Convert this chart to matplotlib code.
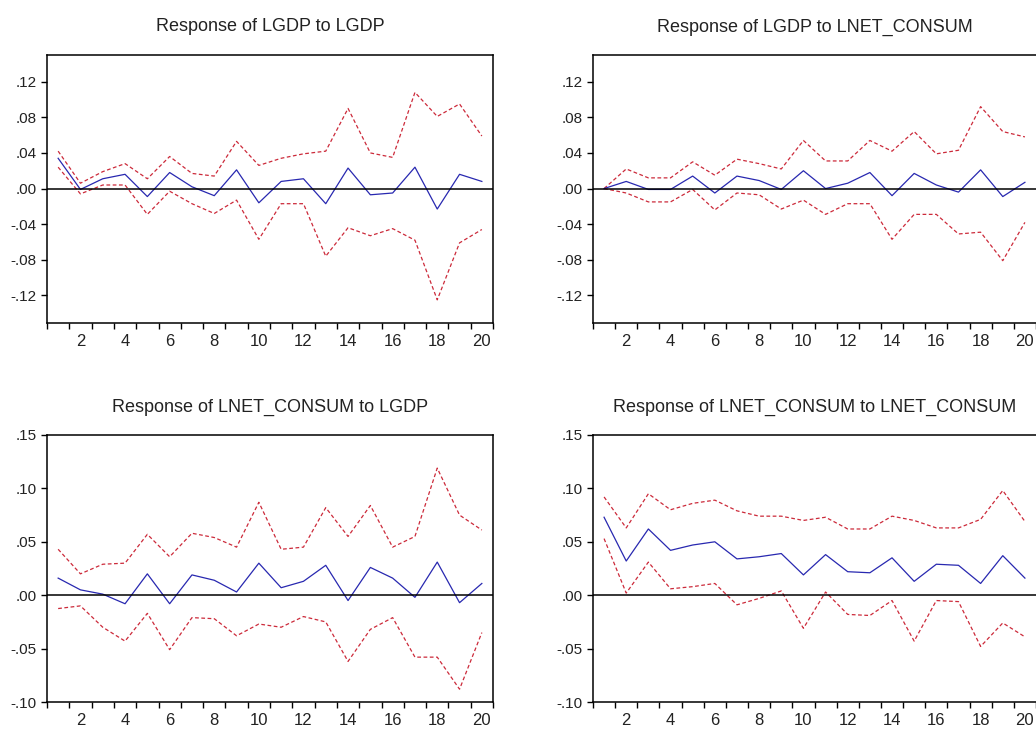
import numpy as np
import matplotlib
matplotlib.use("Agg")
import matplotlib.pyplot as plt
from matplotlib.ticker import FuncFormatter

periods = list(range(1, 21))

# Response of LGDP to LGDP
gdp_gdp = [0.034, -0.001, 0.011, 0.016, -0.009, 0.018, 0.002, -0.008, 0.021, -0.016,
           0.008, 0.011, -0.017, 0.023, -0.007, -0.005, 0.024, -0.023, 0.016, 0.008]
gdp_gdp_hi = [0.042, 0.006, 0.019, 0.028, 0.011, 0.036, 0.017, 0.014, 0.053, 0.026,
              0.034, 0.039, 0.042, 0.090, 0.040, 0.035, 0.108, 0.081, 0.095, 0.059]
gdp_gdp_lo = [0.024, -0.006, 0.004, 0.004, -0.029, -0.003, -0.017, -0.028, -0.013, -0.057,
              -0.017, -0.017, -0.076, -0.044, -0.053, -0.045, -0.058, -0.125, -0.061, -0.046]

# Response of LGDP to LNET_CONSUM
gdp_con = [0.000, 0.008, -0.001, -0.001, 0.014, -0.005, 0.014, 0.009, -0.001, 0.020,
           0.000, 0.006, 0.018, -0.008, 0.017, 0.004, -0.004, 0.021, -0.009, 0.007]
gdp_con_hi = [0.000, 0.022, 0.012, 0.012, 0.030, 0.015, 0.033, 0.028, 0.022, 0.054,
              0.031, 0.031, 0.054, 0.042, 0.064, 0.039, 0.043, 0.092, 0.064, 0.058]
gdp_con_lo = [0.000, -0.005, -0.015, -0.015, -0.001, -0.024, -0.005, -0.007, -0.023, -0.013,
              -0.029, -0.017, -0.017, -0.057, -0.029, -0.029, -0.051, -0.049, -0.081, -0.038]

# Response of LNET_CONSUM to LGDP
con_gdp = [0.016, 0.005, 0.001, -0.008, 0.020, -0.008, 0.019, 0.014, 0.003, 0.030,
           0.007, 0.013, 0.028, -0.005, 0.026, 0.016, -0.002, 0.031, -0.007, 0.011]
con_gdp_hi = [0.043, 0.020, 0.029, 0.030, 0.057, 0.036, 0.058, 0.054, 0.045, 0.087,
              0.043, 0.045, 0.082, 0.055, 0.084, 0.045, 0.055, 0.119, 0.075, 0.061]
con_gdp_lo = [-0.0125, -0.010, -0.030, -0.043, -0.017, -0.051, -0.021, -0.022, -0.038, -0.027,
              -0.030, -0.020, -0.025, -0.062, -0.032, -0.021, -0.058, -0.058, -0.088, -0.035]

# Response of LNET_CONSUM to LNET_CONSUM
con_con = [0.073, 0.032, 0.062, 0.042, 0.047, 0.050, 0.034, 0.036, 0.039, 0.019,
           0.038, 0.022, 0.021, 0.035, 0.013, 0.029, 0.028, 0.011, 0.037, 0.016]
con_con_hi = [0.092, 0.063, 0.095, 0.080, 0.086, 0.089, 0.079, 0.074, 0.074, 0.070,
              0.073, 0.062, 0.062, 0.074, 0.070, 0.063, 0.063, 0.071, 0.098, 0.069]
con_con_lo = [0.053, 0.002, 0.031, 0.006, 0.008, 0.011, -0.009, -0.003, 0.004, -0.031,
              0.003, -0.018, -0.019, -0.005, -0.043, -0.005, -0.006, -0.048, -0.026, -0.039]

titles = ["Response of LGDP to LGDP", "Response of LGDP to LNET_CONSUM",
          "Response of LNET_CONSUM to LGDP", "Response of LNET_CONSUM to LNET_CONSUM"]

plt.rcParams['font.family'] = ['Liberation Sans', 'DejaVu Sans']

W, H = 1036, 729
fig = plt.figure(figsize=(W / 100, H / 100), dpi=100)


def box(left, top, right, bottom):
    return [left / W, 1 - bottom / H, (right - left) / W, (bottom - top) / H]


def fmt(v, pos):
    s = f"{v:.2f}"
    return s.replace("0.", ".", 1)


panels = [
    (box(47, 55, 493, 323), gdp_gdp, gdp_gdp_hi, gdp_gdp_lo, (-0.151, 0.150), np.arange(-0.12, 0.13, 0.04)),
    (box(593, 55, 1036, 323), gdp_con, gdp_con_hi, gdp_con_lo, (-0.151, 0.150), np.arange(-0.12, 0.13, 0.04)),
    (box(47, 435, 493, 702), con_gdp, con_gdp_hi, con_gdp_lo, (-0.10, 0.15), np.arange(-0.10, 0.16, 0.05)),
    (box(593, 435, 1036, 702), con_con, con_con_hi, con_con_lo, (-0.10, 0.15), np.arange(-0.10, 0.16, 0.05)),
]

for i, ((rect, mid, hi, lo, ylim, yt), title) in enumerate(zip(panels, titles)):
    ax = fig.add_axes(rect)
    ax.plot(periods, hi, color='#cc2a3a', lw=0.9, ls=(0, (3, 2)))
    ax.plot(periods, lo, color='#cc2a3a', lw=0.9, ls=(0, (3, 2)))
    ax.plot(periods, mid, color='#2828b0', lw=0.9)
    ax.axhline(0, color='black', lw=1.1)
    ax.set_xlim(0.5, 20.5)
    ax.set_ylim(*ylim)
    ax.set_yticks(yt)
    ax.yaxis.set_major_formatter(FuncFormatter(fmt))
    ax.set_xticks(np.arange(0.5, 21, 1))
    ax.set_xticklabels([])
    ax.set_xticks(range(2, 21, 2), minor=True)
    ax.set_xticklabels([str(k) for k in range(2, 21, 2)], minor=True)
    ax.tick_params(axis='x', which='major', direction='out', length=4, width=1)
    ax.tick_params(axis='x', which='minor', length=0, pad=8, labelsize=12, labelcolor='#222222')
    ax.tick_params(axis='y', direction='out', length=4, width=1, labelsize=11, labelcolor='#222222')
    for sp in ax.spines.values():
        sp.set_linewidth(1.1)
    if i % 2 == 1:
        # right column is clipped by the image edge in the original
        ax.spines['right'].set_visible(False)
    ax.set_title(title, fontsize=13, pad=17, color='#222222')

fig.savefig("out.png", dpi=100)
